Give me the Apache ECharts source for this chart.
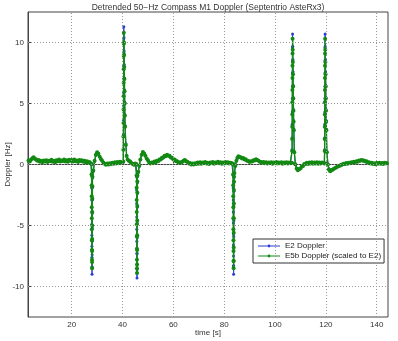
<!DOCTYPE html>
<html>
<head>
<meta charset="utf-8">
<script src="https://cdn.jsdelivr.net/npm/echarts@6/dist/echarts.min.js"></script>
<style>
  html, body { margin: 0; padding: 0; background: #fff; }
  #chart { width: 398px; height: 341px; }
</style>
</head>
<body>
<div id="chart"></div>
<script>
// Sample times [s]; baseline every 0.5 s, denser samples through the fast Doppler swings
const timeSec = [
  3.0,3.5,4.0,4.5,5.0,5.5,6.0,6.5,7.0,7.5, 8.0,8.5,9.0,9.5,10.0,10.5,11.0,11.5,12.0,12.5,
  13.0,13.5,14.0,14.5,15.0,15.5,16.0,16.5,17.0,17.5, 18.0,18.5,19.0,19.5,20.0,20.5,21.0,21.5,22.0,22.5,
  23.0,23.5,24.0,24.5,25.0,25.5,26.0,26.5,27.0,27.5,
  27.8,27.82,27.84,27.86,27.88,27.9,27.92,27.94,27.96,27.98,28.0,28.02,28.04,28.06,28.08,28.1,28.12,28.14,28.16,
  28.5,29.0,29.5,30.0,30.5,31.0,31.5,32.0,32.5,33.0,33.5,34.0,34.5,35.0,35.5,36.0,36.5,37.0,37.5,38.0,38.5,39.0,39.5,40.0,
  40.3,40.32,40.34,40.36,40.38,40.4,40.42,40.44,40.46,40.48,40.5,40.56,40.62,40.68,40.74,40.8,40.86,40.92,41.0,
  41.3,41.6,42.0,42.5,43.0,43.5,44.0,44.5,45.0,45.4,
  45.5,45.52,45.54,45.56,45.58,45.6,45.62,45.64,45.66,45.68,45.7,45.72,45.74,45.76,45.78,45.8,45.82,45.84,45.86,
  46.2,46.6,
  47.0,47.5,48.0,48.5,49.0,49.5,50.0,50.5,51.0,51.5, 52.0,52.5,53.0,53.5,54.0,54.5,55.0,55.5,56.0,56.5,
  57.0,57.5,58.0,58.5,59.0,59.5,60.0,60.5,61.0,61.5, 62.0,62.5,63.0,63.5,64.0,64.5,65.0,65.5,66.0,66.5,
  67.0,67.5,68.0,68.5,69.0,69.5,70.0,70.5,71.0,71.5, 72.0,72.5,73.0,73.5,74.0,74.5,75.0,75.5,76.0,76.5,
  77.0,77.5,78.0,78.5,79.0,79.5,80.0,80.5,81.0,81.5, 82.0,82.5,83.0,83.4,
  83.5,83.52,83.54,83.56,83.58,83.6,83.62,83.64,83.66,83.68,83.7,83.72,83.74,83.76,83.78,83.8,83.82,83.84,83.86,
  84.0,84.4,84.8,85.2,85.6,
  86.0,86.5,87.0,87.5,88.0,88.5,89.0,89.5,90.0,90.5, 91.0,91.5,92.0,92.5,93.0,93.5,94.0,94.5,95.0,95.5,
  96.0,96.5,97.0,97.5,98.0,98.5,99.0,99.5,100.0,100.5, 101.0,101.5,102.0,102.5,103.0,103.5,104.0,104.5,105.0,105.5,
  106.0,106.5,
  106.7,106.72,106.74,106.76,106.78,106.8,106.82,106.84,106.86,106.88,106.9,106.96,107.02,107.08,107.14,107.2,107.26,107.32,107.4,
  107.6,
  108.0,108.5,109.0,109.5,110.0,110.5,111.0,111.5,112.0,112.5, 113.0,113.5,114.0,114.5,115.0,115.5,116.0,116.5,117.0,117.5,
  118.0,118.5,119.0,119.4,
  119.5,119.52,119.54,119.56,119.58,119.6,119.62,119.64,119.66,119.68,119.7,119.76,119.82,119.88,119.94,120.0,120.06,120.12,120.2,
  120.4,120.8,121.2,121.7,
  122.0,122.5,123.0,123.5,124.0,124.5,125.0,125.5,126.0,126.5, 127.0,127.5,128.0,128.5,129.0,129.5,130.0,130.5,131.0,131.5,
  132.0,132.5,133.0,133.5,134.0,134.5,135.0,135.5,136.0,136.5, 137.0,137.5,138.0,138.5,139.0,139.5,140.0,140.5,141.0,141.5,
  142.0,142.5,143.0,143.5,144.0
];

// E2 Doppler [Hz], detrended
const e2Doppler = [
  0.27,0.3,0.36,0.55,0.54,0.52,0.37,0.34,0.29,0.27, 0.25,0.26,0.28,0.3,0.29,0.27,0.25,0.32,0.31,0.28,
  0.24,0.26,0.29,0.33,0.34,0.3,0.27,0.35,0.34,0.31, 0.29,0.28,0.32,0.35,0.3,0.31,0.34,0.33,0.27,0.27,
  0.31,0.33,0.28,0.27,0.24,0.23,0.2,0.17,0.14,0.12,
  0.0,-0.9,-1.9,-2.9,-3.9,-4.9,-5.8,-6.7,-7.6,-8.4,-9.0,-8.4,-7.4,-6.3,-5.2,-4.0,-2.9,-1.9,-1.1,
  -0.55,0.25,0.75,0.98,0.9,0.66,0.44,0.28,0.16,0.05,0.02,0.05,0.04,0.07,0.08,0.1,0.1,0.12,0.13,0.15,0.15,0.16,0.17,0.17,
  0.2,1.3,2.5,3.6,4.8,5.9,7.0,8.1,9.2,10.3,11.3,10.4,9.3,8.2,7.1,6.1,5.1,4.1,3.2,
  1.7,0.75,0.45,0.28,0.2,0.12,0.04,0.02,0.05,0.03,
  0.0,-1.0,-2.1,-3.2,-4.3,-5.3,-6.3,-7.3,-8.2,-8.9,-9.3,-8.6,-7.3,-6.0,-4.8,-3.5,-2.4,-1.5,-1.0,
  -0.65,-0.15,
  0.38,0.78,1.0,0.92,0.7,0.5,0.32,0.18,0.1,0.12, 0.14,0.18,0.22,0.26,0.3,0.36,0.42,0.48,0.56,0.64,
  0.7,0.74,0.75,0.7,0.62,0.54,0.46,0.38,0.3,0.23, 0.18,0.15,0.17,0.22,0.3,0.33,0.28,0.2,0.13,0.08,
  0.05,0.04,0.05,0.07,0.09,0.1,0.11,0.12,0.11,0.12, 0.13,0.13,0.12,0.12,0.11,0.12,0.13,0.13,0.12,0.13,
  0.14,0.15,0.14,0.13,0.12,0.12,0.13,0.14,0.14,0.13, 0.12,0.11,0.1,0.08,
  0.05,-0.9,-1.9,-2.9,-3.9,-4.8,-5.7,-6.6,-7.5,-8.3,-9.0,-8.3,-7.1,-5.9,-4.6,-3.4,-2.2,-1.5,-1.05,
  -0.75,-0.15,0.28,0.52,0.65,
  0.62,0.57,0.52,0.47,0.42,0.37,0.32,0.28,0.25,0.24, 0.26,0.3,0.34,0.36,0.34,0.3,0.25,0.2,0.16,0.14,
  0.13,0.13,0.12,0.12,0.13,0.13,0.12,0.12,0.13,0.14, 0.13,0.13,0.14,0.14,0.12,0.12,0.13,0.14,0.13,0.13,
  0.12,0.12,
  0.1,1.2,2.2,3.3,4.3,5.4,6.4,7.5,8.5,9.6,10.7,9.7,8.6,7.6,6.5,5.5,4.5,3.6,2.9,
  1.05,
  0.0,-0.3,-0.42,-0.38,-0.3,-0.2,-0.1,0.0,0.06,0.09, 0.1,0.11,0.12,0.12,0.12,0.13,0.13,0.12,0.12,0.12,
  0.12,0.12,0.11,0.1,
  0.1,1.2,2.2,3.3,4.3,5.4,6.4,7.5,8.5,9.6,10.7,9.7,8.6,7.6,6.5,5.5,4.5,3.6,2.9,
  1.05,0.05,-0.35,-0.5,
  -0.48,-0.42,-0.36,-0.3,-0.24,-0.18,-0.13,-0.08,-0.04,0.0, 0.03,0.06,0.09,0.11,0.13,0.15,0.17,0.19,0.21,0.23,
  0.25,0.27,0.29,0.31,0.32,0.31,0.29,0.26,0.23,0.2, 0.17,0.14,0.11,0.09,0.08,0.08,0.09,0.1,0.1,0.11,
  0.1,0.1,0.11,0.11,0.1
];

// E5b Doppler [Hz], scaled to the E2 carrier
const e5bDoppler = [
  0.32,0.24,0.42,0.5,0.6,0.47,0.42,0.3,0.36,0.22, 0.31,0.19,0.33,0.24,0.35,0.21,0.31,0.26,0.38,0.22,
  0.3,0.19,0.34,0.27,0.4,0.24,0.33,0.28,0.41,0.25, 0.35,0.22,0.38,0.3,0.36,0.24,0.4,0.27,0.33,0.21,
  0.37,0.28,0.34,0.22,0.3,0.18,0.26,0.12,0.2,0.08,
  0.05,-0.8,-1.7,-2.6,-3.5,-4.4,-5.3,-6.2,-7.0,-7.8,-8.5,-8.0,-7.1,-6.1,-5.0,-3.9,-2.8,-1.8,-1.0,
  -0.5,0.3,0.8,1.0,0.88,0.64,0.46,0.3,0.14,0.06,-0.02,0.09,0.0,0.11,0.04,0.15,0.06,0.18,0.08,0.21,0.1,0.22,0.12,0.2,
  0.25,1.2,2.3,3.4,4.5,5.6,6.7,7.8,8.9,9.9,10.8,10.0,9.0,8.0,7.0,6.0,5.0,4.0,3.1,
  1.6,0.7,0.42,0.3,0.24,0.1,0.06,-0.02,0.09,0.02,
  0.02,-0.9,-1.9,-2.9,-3.9,-4.9,-5.9,-6.9,-7.8,-8.5,-8.9,-8.2,-7.0,-5.8,-4.6,-3.4,-2.3,-1.4,-0.9,
  -0.6,-0.1,
  0.4,0.8,1.02,0.9,0.72,0.5,0.34,0.15,0.08,0.16, 0.1,0.24,0.17,0.31,0.27,0.41,0.4,0.56,0.57,0.71,
  0.67,0.79,0.72,0.71,0.57,0.56,0.41,0.4,0.27,0.26, 0.14,0.19,0.12,0.23,0.3,0.37,0.27,0.23,0.09,0.13,
  0.01,0.09,-0.01,0.11,0.04,0.16,0.07,0.18,0.06,0.16, 0.1,0.2,0.08,0.15,0.04,0.17,0.1,0.2,0.07,0.16,
  0.12,0.22,0.1,0.18,0.06,0.16,0.09,0.2,0.11,0.19, 0.08,0.15,0.1,0.05,
  0.06,-0.8,-1.7,-2.6,-3.5,-4.4,-5.3,-6.2,-7.1,-7.9,-8.5,-7.9,-6.8,-5.6,-4.4,-3.2,-2.1,-1.4,-1.0,
  -0.7,-0.1,0.3,0.55,0.68,
  0.62,0.6,0.5,0.53,0.4,0.43,0.3,0.29,0.2,0.27, 0.24,0.35,0.32,0.43,0.37,0.3,0.22,0.2,0.12,0.2,
  0.1,0.18,0.08,0.17,0.11,0.19,0.07,0.16,0.1,0.2, 0.08,0.17,0.11,0.19,0.06,0.16,0.1,0.19,0.08,0.17,
  0.1,0.14,
  0.12,1.1,2.1,3.1,4.1,5.1,6.1,7.1,8.1,9.1,10.3,9.4,8.4,7.4,6.4,5.4,4.4,3.5,2.8,
  1.0,
  0.02,-0.33,-0.47,-0.36,-0.32,-0.16,-0.12,0.04,0.04,0.15, 0.05,0.16,0.08,0.18,0.06,0.17,0.09,0.19,0.07,0.16,
  0.09,0.17,0.12,0.08,
  0.1,1.1,2.1,3.1,4.1,5.1,6.1,7.1,8.1,9.1,10.3,9.4,8.4,7.4,6.4,5.4,4.4,3.5,2.8,
  1.0,0.0,-0.4,-0.55,
  -0.5,-0.45,-0.36,-0.3,-0.24,-0.19,-0.13,-0.1,-0.03,0.0, 0.07,0.04,0.12,0.07,0.15,0.1,0.19,0.13,0.22,0.18,
  0.27,0.22,0.33,0.3,0.37,0.32,0.33,0.24,0.27,0.17, 0.19,0.08,0.14,0.04,0.1,0.03,0.13,0.06,0.15,0.07,
  0.13,0.05,0.14,0.08,0.12
];

const xTicks = [20, 40, 60, 80, 100, 120, 140];
const yTicks = [-10, -5, 0, 5, 10];

const FONT = '"Liberation Sans", Arial, sans-serif';
const BLUE = '#2a3fd0';
const GREEN = '#128a12';
const pairs = (vals) => timeSec.map((t, i) => [t, vals[i]]);

const gridLines = xTicks.map(v => ({ xAxis: v })).concat(yTicks.map(v => ({ yAxis: v })));

// legend key: thin line with a dot marker in the middle
const keyIcon = 'path://M0,4.6 L22,4.6 L22,5.4 L0,5.4 Z M11,3.6 A1.4,1.4 0 1,1 11,6.4 A1.4,1.4 0 1,1 11,3.6 Z';

const chart = echarts.init(document.getElementById('chart'), null, { renderer: 'canvas' });
chart.setOption({
  animation: false,
  backgroundColor: '#fff',
  title: {
    text: 'Detrended 50\u2212Hz Compass M1 Doppler (Septentrio AsteRx3)',
    left: 208, top: 3, textAlign: 'center', padding: 0,
    textStyle: { fontFamily: FONT, fontSize: 8.5, fontWeight: 'normal', color: '#333' }
  },
  grid: {
    left: 28, right: 10, top: 12, bottom: 24,
    outerBoundsMode: 'none', containLabel: false,
    show: true, borderColor: '#444', borderWidth: 1
  },
  legend: {
    data: [
      { name: 'E2 Doppler', icon: keyIcon, itemStyle: { color: BLUE } },
      { name: 'E5b Doppler (scaled to E2)', icon: keyIcon, itemStyle: { color: GREEN } }
    ],
    orient: 'vertical', left: 253, top: 239,
    backgroundColor: '#fff', borderColor: '#333', borderWidth: 1,
    padding: [3, 3, 3, 5], itemGap: 2, itemWidth: 22, itemHeight: 10,
    textStyle: { fontFamily: FONT, fontSize: 8, color: '#222' }
  },
  xAxis: {
    type: 'value', min: 2.8, max: 144.45,
    name: 'time [s]', nameLocation: 'middle', nameGap: 12, nameMoveOverlap: false,
    nameTextStyle: { fontFamily: FONT, fontSize: 8, color: '#333', verticalAlign: 'top' },
    axisLine: { show: true, lineStyle: { color: '#444' } },
    axisTick: { show: true, inside: true, length: 3, customValues: xTicks, lineStyle: { color: '#444' } },
    axisLabel: { customValues: xTicks, fontFamily: FONT, fontSize: 8, color: '#333', margin: 4 },
    splitLine: { show: false }
  },
  yAxis: {
    type: 'value', min: -12.5, max: 12.5,
    name: 'Doppler [Hz]', nameLocation: 'middle', nameGap: 16, nameMoveOverlap: false,
    nameTextStyle: { fontFamily: FONT, fontSize: 8, color: '#333' },
    axisLine: { show: true, lineStyle: { color: '#444' } },
    axisTick: { show: true, inside: true, length: 3, customValues: yTicks, lineStyle: { color: '#444' } },
    axisLabel: { customValues: yTicks, fontFamily: FONT, fontSize: 8, color: '#333', margin: 4 },
    splitLine: { show: false }
  },
  series: [
    {
      name: 'grid', type: 'line', data: [], silent: true, z: 1,
      markLine: {
        silent: true, symbol: ['none', 'none'], label: { show: false },
        lineStyle: { color: '#999', width: 1, type: [1, 2] },
        emphasis: { disabled: true },
        data: gridLines
      }
    },
    {
      name: 'E2 Doppler', type: 'line', data: pairs(e2Doppler), z: 2,
      symbol: 'circle', symbolSize: 3, showSymbol: true,
      lineStyle: { color: BLUE, width: 1 },
      itemStyle: { color: BLUE, borderWidth: 0 }
    },
    {
      name: 'E5b Doppler (scaled to E2)', type: 'line', data: pairs(e5bDoppler), z: 3,
      symbol: 'circle', symbolSize: 4, showSymbol: true,
      lineStyle: { color: GREEN, width: 1.4 },
      itemStyle: { color: GREEN, borderWidth: 0 }
    }
  ]
});
</script>
</body>
</html>
